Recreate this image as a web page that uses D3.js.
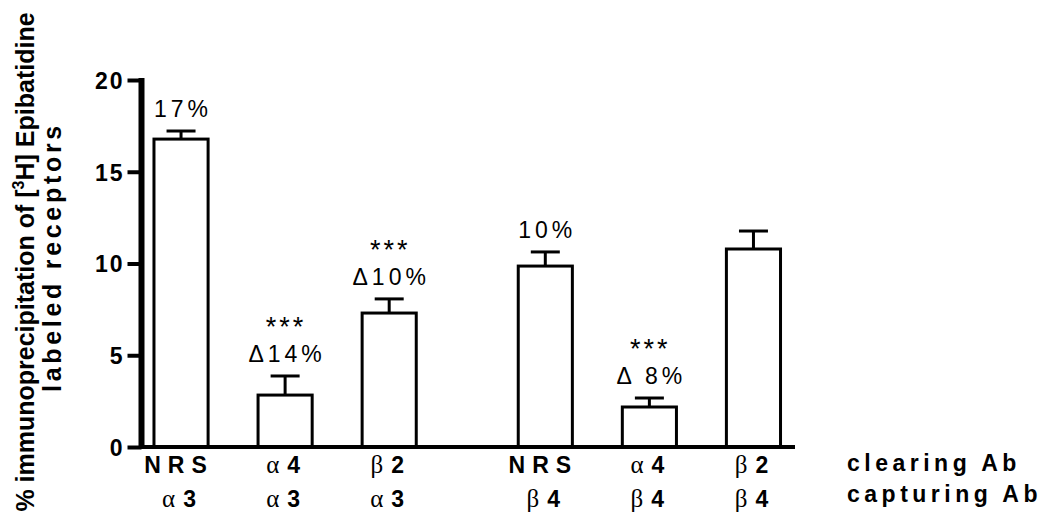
<!DOCTYPE html>
<html>
<head>
<meta charset="utf-8">
<script src="https://d3js.org/d3.v7.min.js"></script>
<style>
  body { margin: 0; background: #fff; }
  svg text { font-family: "Liberation Sans", Arial, sans-serif; fill: #000; }
</style>
<title>Epibatidine immunoprecipitation</title>
</head>
<body>
<script>
// values
var groups = ["α3", "β4"];
var clearing = ["NRS", "α 4", "β 2", "NRS", "α 4", "β 2"];
var capturing = ["α 3", "α 3", "α 3", "β 4", "β 4", "β 4"];
var means = [16.78, 2.83, 7.30, 9.86, 2.18, 10.79];
var errors = [0.44, 1.04, 0.77, 0.77, 0.49, 0.98];
var stars = ["", "***", "***", "", "***", ""];
var notes = ["17%", "Δ14%", "Δ10%", "10%", "Δ 8%", ""];
var yTicks = [0, 5, 10, 15, 20];

var width = 1050, height = 526;

var svg = d3.select("body").append("svg")
    .attr("width", width)
    .attr("height", height);

var y = d3.scaleLinear().domain([0, 20]).range([447, 80]);

// two groups of three bars
var outer = d3.scaleBand().domain(groups).range([129, 805.5]).paddingInner(52 / 364).paddingOuter(0);
var inner = d3.scaleBand().domain([0, 1, 2]).range([0, outer.bandwidth()]).paddingInner(0.48).paddingOuter(0.24);

var bars = means.map(function(v, i) {
  return {
    value: v, err: errors[i], star: stars[i], note: notes[i],
    clear: clearing[i], capt: capturing[i],
    x: outer(groups[Math.floor(i / 3)]) + inner(i % 3)
  };
});
var bw = inner.bandwidth();

// bars
svg.selectAll(".bar").data(bars).enter().append("rect")
  .attr("class", "bar")
  .attr("x", function(d) { return d.x; })
  .attr("width", bw)
  .attr("y", function(d) { return y(d.value); })
  .attr("height", function(d) { return y(0) - y(d.value); })
  .attr("fill", "#fff")
  .attr("stroke", "#000")
  .attr("stroke-width", 3);

// error bars (upper only)
svg.selectAll(".err").data(bars).enter().append("line")
  .attr("x1", function(d) { return d.x + bw / 2; })
  .attr("x2", function(d) { return d.x + bw / 2; })
  .attr("y1", function(d) { return y(d.value); })
  .attr("y2", function(d) { return y(d.value + d.err); })
  .attr("stroke", "#000").attr("stroke-width", 3);
svg.selectAll(".cap").data(bars).enter().append("line")
  .attr("x1", function(d) { return d.x + bw / 2 - 14.5; })
  .attr("x2", function(d) { return d.x + bw / 2 + 14.5; })
  .attr("y1", function(d) { return y(d.value + d.err); })
  .attr("y2", function(d) { return y(d.value + d.err); })
  .attr("stroke", "#000").attr("stroke-width", 3);

// x axis line
svg.append("line")
  .attr("x1", 141).attr("x2", 795)
  .attr("y1", y(0)).attr("y2", y(0))
  .attr("stroke", "#000").attr("stroke-width", 4);

// y axis
var yAxis = svg.append("g")
  .attr("transform", "translate(141.5,0)")
  .call(d3.axisLeft(y).tickValues(yTicks).tickSize(14).tickSizeOuter(0).tickPadding(5));
yAxis.select(".domain").attr("stroke-width", 6).attr("d", "M0," + (y(20) - 2) + "V" + (y(0) + 2));
yAxis.selectAll(".tick line").attr("stroke-width", 4);
yAxis.selectAll(".tick text")
  .attr("font-family", "'Liberation Sans', Arial, sans-serif")
  .attr("font-size", 23).attr("font-weight", "bold")
  .attr("letter-spacing", 2).attr("dx", 2).attr("dy", "0.36em");

// annotations above bars
var noteG = svg.selectAll(".note").data(bars).enter().append("g");
noteG.append("text")
  .attr("x", function(d) { return d.x + bw / 2 + 2; })
  .attr("y", function(d) { return y(d.value + d.err) - 14; })
  .attr("text-anchor", "middle")
  .attr("font-size", 23).attr("letter-spacing", 4)
  .text(function(d) { return d.note; });
noteG.append("text")
  .attr("x", function(d) { return d.x + bw / 2 + 1; })
  .attr("y", function(d) { return y(d.value + d.err) - 40; })
  .attr("text-anchor", "middle")
  .attr("font-size", 27).attr("letter-spacing", 3)
  .text(function(d) { return d.star; });

// category labels: greek in serif, rest bold sans
function label(sel, str) {
  var parts = str.split(" ");
  if (parts.length === 1) {
    sel.append("tspan").attr("font-weight", "bold").attr("letter-spacing", 7).text(str);
  } else {
    sel.append("tspan").attr("font-family", "'Liberation Serif', 'DejaVu Serif', serif")
      .attr("font-size", 25).text(parts[0]);
    sel.append("tspan").attr("font-weight", "bold").attr("dx", 8).text(parts[1]);
  }
}
svg.selectAll(".clab").data(bars).enter().append("text")
  .attr("x", function(d) { return d.x + bw / 2 - 2; })
  .attr("y", 473)
  .attr("text-anchor", "middle")
  .attr("font-size", 23)
  .each(function(d) { label(d3.select(this), d.clear); });
svg.selectAll(".plab").data(bars).enter().append("text")
  .attr("x", function(d) { return d.x + bw / 2 - 2; })
  .attr("y", 507)
  .attr("text-anchor", "middle")
  .attr("font-size", 23)
  .each(function(d) { label(d3.select(this), d.capt); });

svg.append("text").attr("x", 847).attr("y", 471)
  .attr("font-size", 23).attr("font-weight", "bold").attr("letter-spacing", 4.5)
  .text("clearing Ab");
svg.append("text").attr("x", 847).attr("y", 502)
  .attr("font-size", 23).attr("font-weight", "bold").attr("letter-spacing", 4.5)
  .text("capturing Ab");

// y axis title
var t1 = svg.append("text")
  .attr("transform", "translate(34,262) rotate(-90)")
  .attr("text-anchor", "middle")
  .attr("font-size", 25).attr("font-weight", "bold");
t1.append("tspan").text("% immunoprecipitation of [");
t1.append("tspan").attr("font-size", 16).attr("dy", -10).text("3");
t1.append("tspan").attr("dy", 10).text("H] Epibatidine");
svg.append("text")
  .attr("transform", "translate(61,257) rotate(-90)")
  .attr("text-anchor", "middle")
  .attr("font-size", 25).attr("font-weight", "bold").attr("letter-spacing", 3.7)
  .text("labeled receptors");
</script>
</body>
</html>
